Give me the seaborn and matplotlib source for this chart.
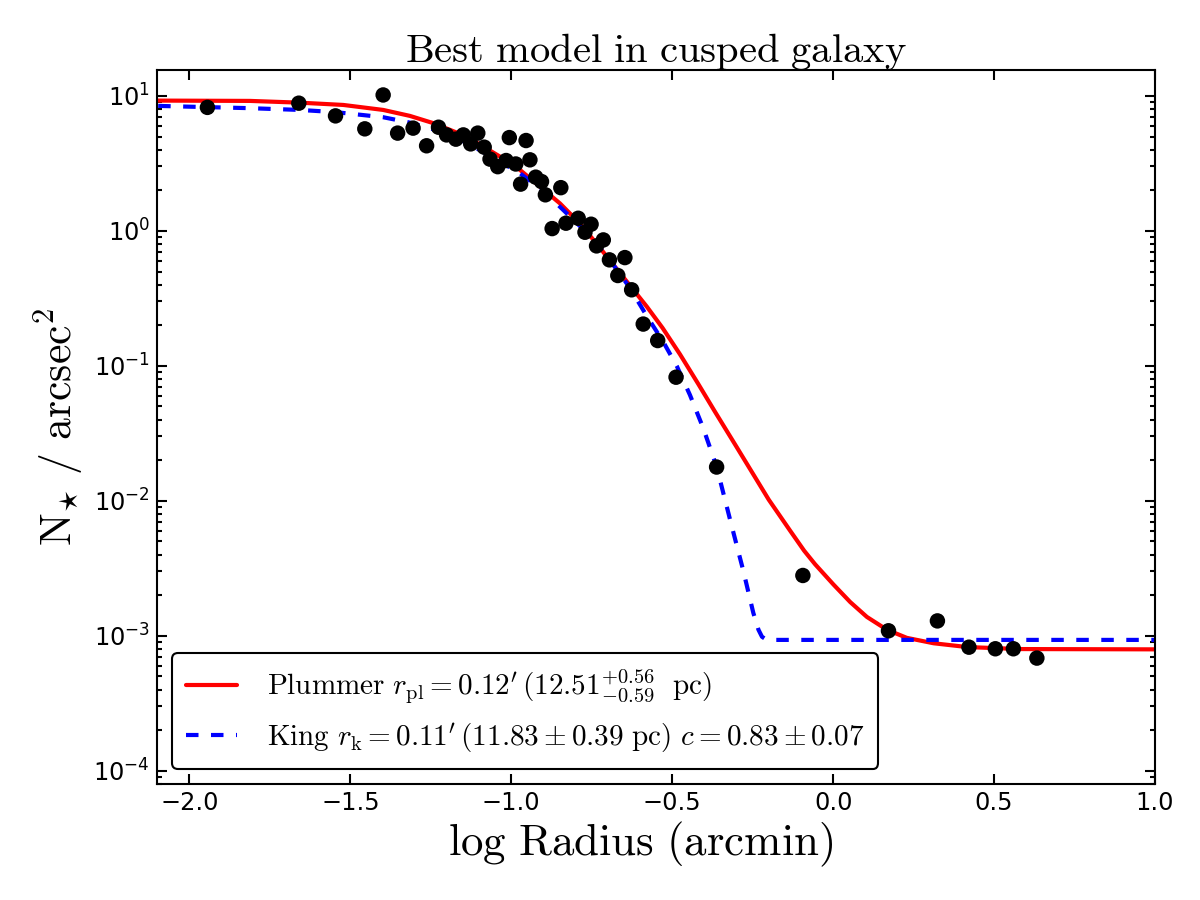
import numpy as np
import pandas as pd
import seaborn as sns
import matplotlib
matplotlib.use("Agg")
import matplotlib.pyplot as plt

# observed surface density profile (log radius in arcmin, stars / arcsec^2)
log_r = [-1.944, -1.660, -1.546, -1.398, -1.455, -1.353, -1.305, -1.263, -1.226, -1.201,
         -1.172, -1.149, -1.126, -1.104, -1.084, -1.066, -1.042, -1.016, -1.006, -0.986,
         -0.971, -0.954, -0.942, -0.924, -0.906, -0.894, -0.873, -0.846, -0.830, -0.792,
         -0.771, -0.752, -0.735, -0.714, -0.695, -0.669, -0.647, -0.626, -0.590, -0.545,
         -0.488, -0.362, -0.094, 0.172, 0.324, 0.422, 0.504, 0.560, 0.633]
density = [8.22, 8.83, 7.11, 10.16, 5.70, 5.30, 5.77, 4.27, 5.86, 5.14,
           4.78, 5.14, 4.41, 5.30, 4.17, 3.40, 2.99, 3.32, 4.91, 3.13,
           2.22, 4.67, 3.36, 2.50, 2.32, 1.85, 1.04, 2.09, 1.14, 1.24,
           0.977, 1.12, 0.774, 0.857, 0.610, 0.467, 0.634, 0.366, 0.204, 0.154,
           0.0824, 0.0178, 0.0028, 0.00109, 0.00129, 0.000824, 0.000802, 0.000802, 0.000684]

# best-fit Plummer model
plummer_x = [-2.098, -1.812, -1.657, -1.522, -1.398, -1.315, -1.242, -1.139, -1.035, -0.973,
             -0.911, -0.849, -0.786, -0.735, -0.683, -0.579, -0.530, -0.476, -0.420, -0.367,
             -0.300, -0.250, -0.200, -0.134, -0.090, -0.056, 0.001, 0.053, 0.105, 0.167,
             0.229, 0.312, 0.416, 0.581, 1.0]
plummer_y = [9.23, 9.18, 8.91, 8.57, 7.87, 7.11, 6.28, 5.00, 3.55, 2.83,
             2.13, 1.60, 1.13, 0.804, 0.562, 0.275, 0.191, 0.122, 0.0741, 0.0457,
             0.0251, 0.0160, 0.0102, 0.00603, 0.00427, 0.00339, 0.00240, 0.00178, 0.00138, 0.00111,
             0.000966, 0.000881, 0.000826, 0.000798, 0.000794]

# best-fit King model
king_x = [-2.097, -1.812, -1.657, -1.543, -1.398, -1.315, -1.242, -1.139, -1.035, -0.973,
          -0.911, -0.849, -0.786, -0.735, -0.683, -0.631, -0.579, -0.528, -0.486, -0.445,
          -0.404, -0.362, -0.320, -0.279, -0.248, -0.232, -0.221, -0.206, 1.0]
king_y = [8.43, 8.11, 7.87, 7.57, 6.95, 6.34, 5.66, 4.51, 3.26, 2.67,
          2.07, 1.51, 1.08, 0.811, 0.560, 0.377, 0.234, 0.151, 0.100, 0.0610,
          0.0348, 0.0179, 0.00723, 0.00303, 0.00148, 0.00111, 0.000984, 0.000933, 0.000933]

plummer_label = r'$\mathrm{Plummer}\ r_{\mathrm{pl}}=0.12^{\prime}\,(12.51^{+0.56}_{-0.59}\ \ \mathrm{pc})$'
king_label = r'$\mathrm{King}\ r_{\mathrm{k}}=0.11^{\prime}\,(11.83\pm0.39\ \mathrm{pc})\ c=0.83\pm0.07$'

sns.set_style("white")
plt.rcParams['font.family'] = ['DejaVu Sans']
plt.rcParams['lines.scale_dashes'] = False
plt.rcParams['text.color'] = 'black'
plt.rcParams['axes.labelcolor'] = 'black'

obs = pd.DataFrame({"x": log_r, "y": density})
plum = pd.DataFrame({"x": plummer_x, "y": plummer_y})
king = pd.DataFrame({"x": king_x, "y": king_y})

fig, ax = plt.subplots(figsize=(8, 6), dpi=150)
fig.subplots_adjust(left=0.131, right=0.9625, top=0.922, bottom=0.129)

sns.lineplot(data=plum, x="x", y="y", ax=ax, color="red", lw=2,
             estimator=None, sort=False, label=plummer_label)
sns.lineplot(data=king, x="x", y="y", ax=ax, color="blue", lw=2,
             estimator=None, sort=False, label=king_label)
ax.lines[-1].set_dashes((6, 6))
sns.scatterplot(data=obs, x="x", y="y", ax=ax, color="black", s=55,
                edgecolor="none", zorder=3)

ax.set_yscale("log")
ax.set_xlim(-2.1, 1.0)
ax.set_ylim(8e-5, 15.5)
ax.set_xticks(np.arange(-2.0, 1.01, 0.5))

for sp in ax.spines.values():
    sp.set_linewidth(1.0)
    sp.set_color("black")
ax.tick_params(which="both", direction="in", top=True, right=True,
               bottom=True, left=True,
               labelsize=11.5, width=1.0, colors="black")
ax.tick_params(which="major", length=5)
ax.tick_params(which="minor", length=2.5)
ax.tick_params(axis="x", which="minor", bottom=False, top=False)

ax.set_title(r'$\mathrm{Best\ model\ in\ cusped\ galaxy}$', fontsize=19.5,
             math_fontfamily="cm", pad=4, color="black")
ax.set_xlabel(r'$\mathrm{log\ Radius\ (arcmin)}$', fontsize=21.5,
              math_fontfamily="cm", labelpad=2)
ax.xaxis.label.set_x(0.485)
ax.set_ylabel(r'$\mathrm{N}_{\star}\ /\ \mathrm{arcsec}^{2}$', fontsize=21,
              math_fontfamily="cm", labelpad=4)

leg = ax.legend(loc="lower left", fontsize=14.0, frameon=True, fancybox=True,
                handlelength=1.75, handletextpad=1.0, borderpad=0.5,
                labelspacing=0.5)
leg.get_frame().set_edgecolor("black")
leg.get_frame().set_linewidth(1.0)
leg.get_frame().set_alpha(1.0)
for t in leg.get_texts():
    t.set_math_fontfamily("cm")
    t.set_color("black")

fig.savefig("out.png", dpi=150)
